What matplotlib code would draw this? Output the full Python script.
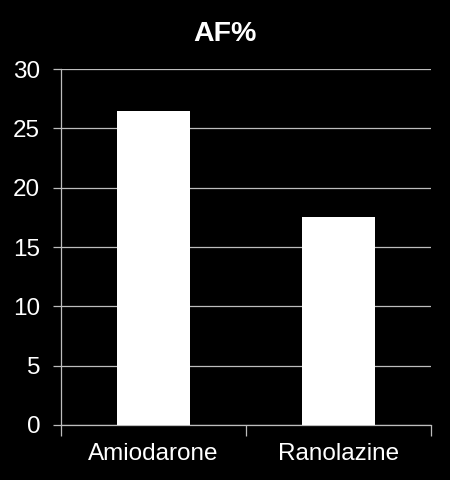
import matplotlib.pyplot as plt

plt.rcParams['font.family'] = ['Liberation Sans', 'DejaVu Sans']

# Data
drugs = ['Amiodarone', 'Ranolazine']
af_pct = [26.5, 17.5]
yticks = [0, 5, 10, 15, 20, 25, 30]

fig = plt.figure(figsize=(4.5, 4.8), dpi=100, facecolor='black')
ax = fig.add_axes([0.1356, 0.1146, 0.8222, 0.7414], facecolor='black')

x = list(range(len(drugs)))
ax.bar(x, af_pct, width=0.395, color='white', zorder=3)

ax.set_xlim(-0.5, len(drugs) - 0.5)
ax.set_ylim(0, 30)
ax.set_yticks(yticks)
ax.yaxis.grid(True, color='#bdbdbd', linewidth=0.9, zorder=0)

# category labels centred, ticks at boundaries
ax.set_xticks([i - 0.5 for i in range(len(drugs) + 1)])
ax.set_xticklabels([])
ax.set_xticks(x, minor=True)
ax.set_xticklabels(drugs, minor=True, fontsize=17.5, color='white')
ax.tick_params(axis='x', which='minor', length=0, pad=13)
ax.tick_params(axis='x', which='major', length=8, color='#bdbdbd', width=0.9)
ax.tick_params(axis='y', length=6, color='#bdbdbd', width=0.9, labelsize=17.5,
               labelcolor='white', pad=9)

for side in ['top', 'right']:
    ax.spines[side].set_visible(False)
for side in ['left', 'bottom']:
    ax.spines[side].set_color('#bdbdbd')
    ax.spines[side].set_linewidth(0.9)

fig.text(0.5, 0.93, 'AF%', ha='center', va='center', fontsize=20.5,
         fontweight='bold', color='white')

fig.savefig('out.png', dpi=100, facecolor='black')
